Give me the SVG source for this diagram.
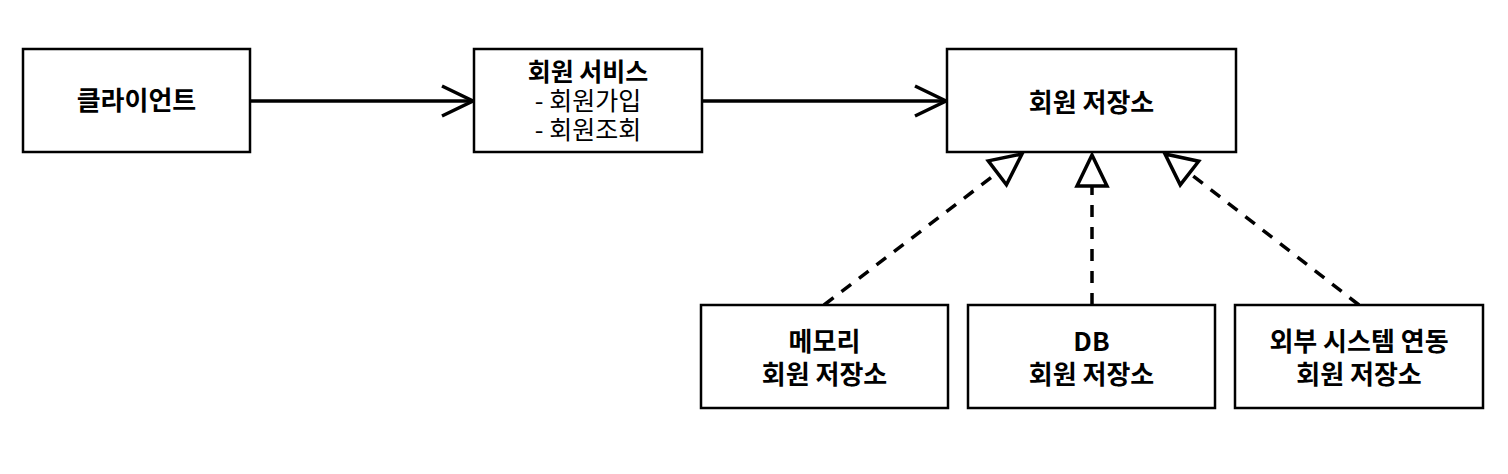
<svg xmlns="http://www.w3.org/2000/svg" width="1508" height="474" viewBox="0 0 1508 474">
<style>
.box{fill:#fff;stroke:#000;stroke-width:2.5}
.t{font-family:"Noto Sans CJK KR","Noto Sans",sans-serif;font-size:26px;fill:#000;text-anchor:middle}
.s{font-size:25px}
.b{font-weight:bold}
.solid{stroke:#000;stroke-width:3.5;fill:none}
.dash{stroke:#000;stroke-width:3.5;fill:none;stroke-dasharray:12 10}
</style>
<defs>
<marker id="open" markerUnits="userSpaceOnUse" markerWidth="40" markerHeight="40" viewBox="-35 -20 40 40" refX="0" refY="0" orient="auto" overflow="visible">
<path d="M-31,-15 L0,0 L-31,15" fill="none" stroke="#000" stroke-width="3.5"/>
</marker>
<marker id="tri" markerUnits="userSpaceOnUse" markerWidth="40" markerHeight="40" viewBox="-35 -20 40 40" refX="0" refY="0" orient="auto" overflow="visible">
<path d="M-31,-15 L0,0 L-31,15 Z" fill="#fff" stroke="#000" stroke-width="3.5"/>
</marker>
</defs>
<rect width="1508" height="474" fill="#fff"/>
<g id="connectors">
<line class="solid" x1="250" y1="101" x2="473" y2="101" marker-end="url(#open)"/>
<line class="solid" x1="702" y1="101" x2="946" y2="101" marker-end="url(#open)"/>
<line class="dash" x1="824" y1="305" x2="1022" y2="154" marker-end="url(#tri)"/>
<line class="dash" x1="1092" y1="305" x2="1092" y2="155" marker-end="url(#tri)"/>
<line class="dash" x1="1359" y1="305" x2="1165" y2="154" marker-end="url(#tri)"/>
</g>
<g id="client">
<rect class="box" x="23" y="49" width="227" height="103"/>
<text class="t b" x="136.5" y="110">클라이언트</text>
</g>
<g id="service">
<rect class="box" x="474" y="49" width="228" height="103"/>
<text class="t b s" x="588" y="81">회원 서비스</text>
<text class="t s" x="588" y="110">- 회원가입</text>
<text class="t s" x="588" y="139">- 회원조회</text>
</g>
<g id="repository">
<rect class="box" x="947" y="49" width="289" height="103"/>
<text class="t b" x="1091.5" y="112">회원 저장소</text>
</g>
<g id="memory">
<rect class="box" x="701" y="305" width="247" height="103"/>
<text class="t b" x="824.5" y="351">메모리</text>
<text class="t b" x="824.5" y="384">회원 저장소</text>
</g>
<g id="db">
<rect class="box" x="968" y="305" width="247" height="103"/>
<text class="t b" x="1091.5" y="351">DB</text>
<text class="t b" x="1091.5" y="384">회원 저장소</text>
</g>
<g id="external">
<rect class="box" x="1235" y="305" width="248" height="103"/>
<text class="t b" x="1359" y="351">외부 시스템 연동</text>
<text class="t b" x="1359" y="384">회원 저장소</text>
</g>
</svg>
